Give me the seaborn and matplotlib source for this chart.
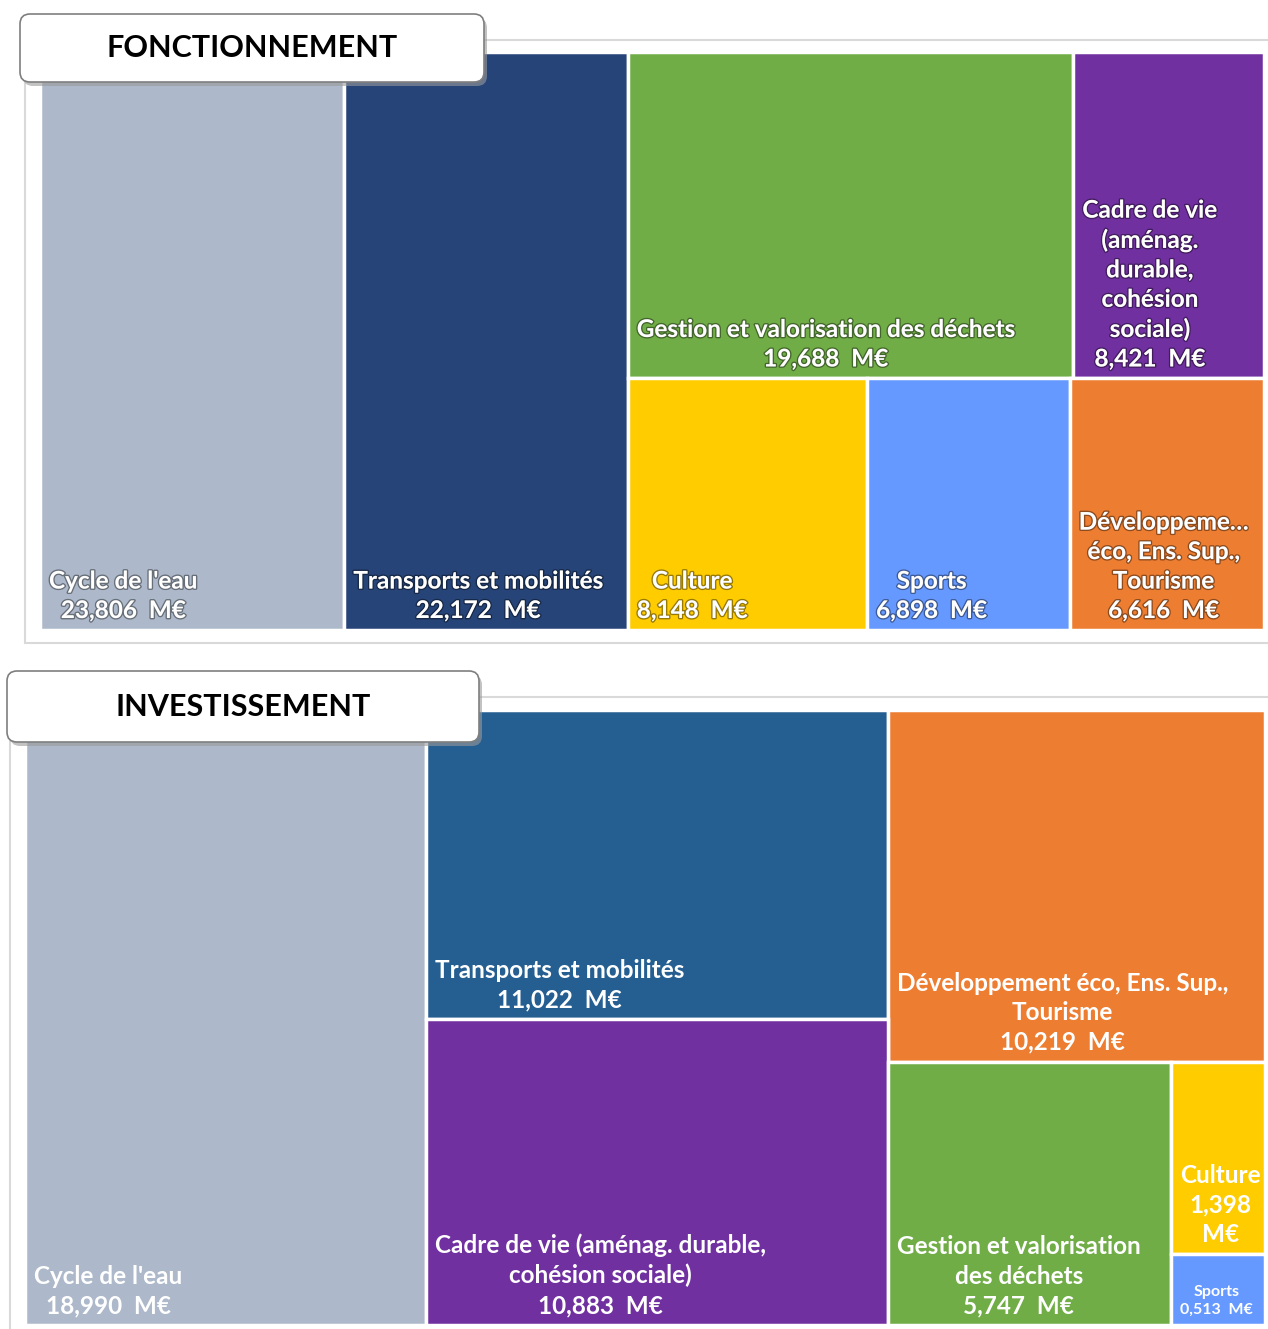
import matplotlib
matplotlib.use("Agg")
import matplotlib.pyplot as plt
import matplotlib.patheffects as pe
from matplotlib.patches import FancyBboxPatch, Rectangle
import seaborn as sns

# --- data (M€) ---
fonct_names = ["Cycle de l'eau", "Transports et mobilités", "Gestion et valorisation des déchets",
               "Cadre de vie\n(aménag.\ndurable,\ncohésion\nsociale)", "Culture", "Sports",
               "Développeme…\néco, Ens. Sup.,\nTourisme"]
fonct_values = [23.806, 22.172, 19.688, 8.421, 8.148, 6.898, 6.616]
fonct_colors = ["#ADB9CA", "#264478", "#70AD47", "#7030A0", "#FFCC00", "#6699FF", "#ED7D31"]

invest_names = ["Cycle de l'eau", "Transports et mobilités", "Développement éco, Ens. Sup.,\nTourisme",
                "Cadre de vie (aménag. durable,\ncohésion sociale)", "Gestion et valorisation\ndes déchets",
                "Culture", "Sports"]
invest_values = [18.990, 11.022, 10.219, 10.883, 5.747, 1.398, 0.513]
invest_colors = ["#ADB9CA", "#255E91", "#ED7D31", "#7030A0", "#70AD47", "#FFCC00", "#6699FF"]

# nesting of the treemaps (alternating horizontal / vertical splits)
fonct_tree = [0, 1, [[2, 3], [4, 5, 6]]]
invest_tree = [0, [1, 3], [2, [4, [5, 6]]]]


def total(node, values):
    if isinstance(node, int):
        return values[node]
    return sum(total(n, values) for n in node)


def layout(node, values, x, y, w, h, horiz, out):
    if isinstance(node, int):
        out[node] = (x, y, w, h)
        return
    s = total(node, values)
    for child in node:
        f = total(child, values) / s
        if horiz:
            layout(child, values, x, y, w * f, h, False, out)
            x += w * f
        else:
            layout(child, values, x, y, w, h * f, True, out)
            y += h * f


def fmt(v):
    return f"{v:.3f}".replace(".", ",") + "  M€"


sns.set_theme(style="white")
plt.rcParams["font.family"] = ["Lato", "DejaVu Sans"]

fig = plt.figure(figsize=(12.68, 13.29), dpi=100)
ax = fig.add_axes([0, 0, 1, 1])
ax.set_xlim(0, 1268)
ax.set_ylim(1329, 0)
ax.axis("off")


def draw_treemap(names, values, colors, tree, area, frame, box, title, outline, small=()):
    # chart frame
    fx, fy, fw, fh = frame
    ax.add_patch(Rectangle((fx, fy), fw, fh, fill=False, edgecolor="#D9D9D9", lw=1.5, zorder=0))
    rects = {}
    layout(tree, values, *area, True, rects)
    for i in range(len(values)):
        x, y, w, h = rects[i]
        ax.bar(x, h, width=w, bottom=y, align="edge", color=colors[i],
               edgecolor="white", linewidth=2.5, zorder=1)
        val = fmt(values[i])
        if w < 120 and i not in small:
            val = val.replace("  ", "\n")
        size = 11.5 if i in small else 17.5
        effects = [pe.withStroke(linewidth=2, foreground=(0, 0, 0, 0.4))] if outline else []
        ax.text(x + 9, y + h - 8, names[i] + "\n" + val, ha="left", va="bottom",
                multialignment="center", color="white", fontsize=size, fontweight="bold",
                linespacing=1.34, zorder=3, path_effects=effects)
    # title box
    bx, by, bw, bh = box
    ax.add_patch(FancyBboxPatch((bx + 3, by + 4), bw, bh, boxstyle="round,pad=0,rounding_size=10",
                                facecolor="#9A9A9A", edgecolor="none", alpha=0.6, zorder=4))
    ax.add_patch(FancyBboxPatch((bx, by), bw, bh, boxstyle="round,pad=0,rounding_size=10",
                                facecolor="white", edgecolor="#7F7F7F", lw=1.2, zorder=5))
    ax.text(bx + bw / 2, by + bh / 2, title, ha="center", va="center", fontsize=22,
            fontweight="bold", color="black", zorder=6)


draw_treemap(fonct_names, fonct_values, fonct_colors, fonct_tree,
             (40, 52, 1224, 578), (25, 40, 1260, 603), (20, 14, 464, 68), "FONCTIONNEMENT", True)
draw_treemap(invest_names, invest_values, invest_colors, invest_tree,
             (25, 710, 1240, 615), (10, 697, 1275, 650), (7, 671, 472, 71), "INVESTISSEMENT", False,
             small=(6,))

fig.savefig("out.png", dpi=100)
